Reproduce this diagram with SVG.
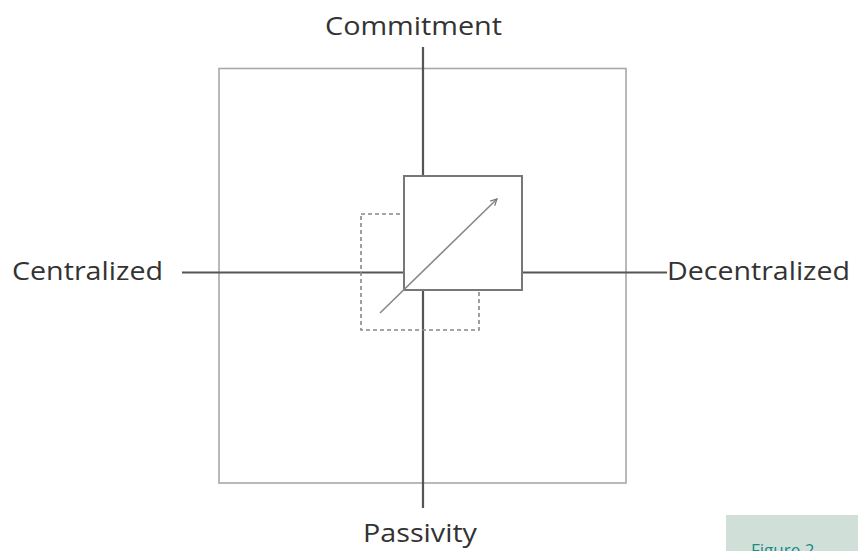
<svg xmlns="http://www.w3.org/2000/svg" width="861" height="551" viewBox="0 0 861 551">
<style>
.lbl{font-family:"Open Sans","Liberation Sans",sans-serif;font-size:26px;fill:#333}
.axis{stroke:#555;stroke-width:2.2;fill:none}
</style>
<defs>
<marker id="ah" viewBox="0 0 10 10" refX="9" refY="5" markerWidth="8" markerHeight="8" markerUnits="userSpaceOnUse" orient="auto">
<path d="M1,1 L9,5 L1,9" fill="none" stroke="#777" stroke-width="1.5"/>
</marker>
</defs>
<rect width="861" height="551" fill="#fff"/>
<g id="frame"><rect x="219" y="68.5" width="407" height="414.5" fill="none" stroke="#a8a8a8" stroke-width="1.6"/></g>
<g id="connectors">
<line class="axis" x1="423" y1="47" x2="423" y2="508"/>
<line class="axis" x1="182" y1="272.5" x2="404" y2="272.5"/>
<line class="axis" x1="522" y1="272.5" x2="667" y2="272.5"/>
</g>
<g id="shifted-box"><rect x="361" y="214" width="118" height="116" fill="none" stroke="#888" stroke-width="1.6" stroke-dasharray="4,3"/></g>
<g id="center-box"><rect x="404" y="176" width="118" height="114" fill="#fff" stroke="#777" stroke-width="2"/></g>
<g id="shift-arrow"><line x1="380" y1="313" x2="497" y2="199" stroke="#888" stroke-width="1.6" marker-end="url(#ah)"/></g>
<g id="commitment"><text class="lbl" x="325" y="35" textLength="177" lengthAdjust="spacingAndGlyphs">Commitment</text></g>
<g id="passivity"><text class="lbl" x="363" y="542" font-size="25" textLength="114" lengthAdjust="spacingAndGlyphs">Passivity</text></g>
<g id="centralized"><text class="lbl" x="12" y="280" textLength="151" lengthAdjust="spacingAndGlyphs">Centralized</text></g>
<g id="decentralized"><text class="lbl" x="667" y="280" textLength="183" lengthAdjust="spacingAndGlyphs">Decentralized</text></g>
<g id="figure-tab">
<rect x="726" y="515" width="132" height="40" fill="#d0e0d8"/>
<text x="751" y="556" font-family="Open Sans,Liberation Sans,sans-serif" font-size="17" fill="#1a8a8a">Figure 2</text>
</g>
</svg>
